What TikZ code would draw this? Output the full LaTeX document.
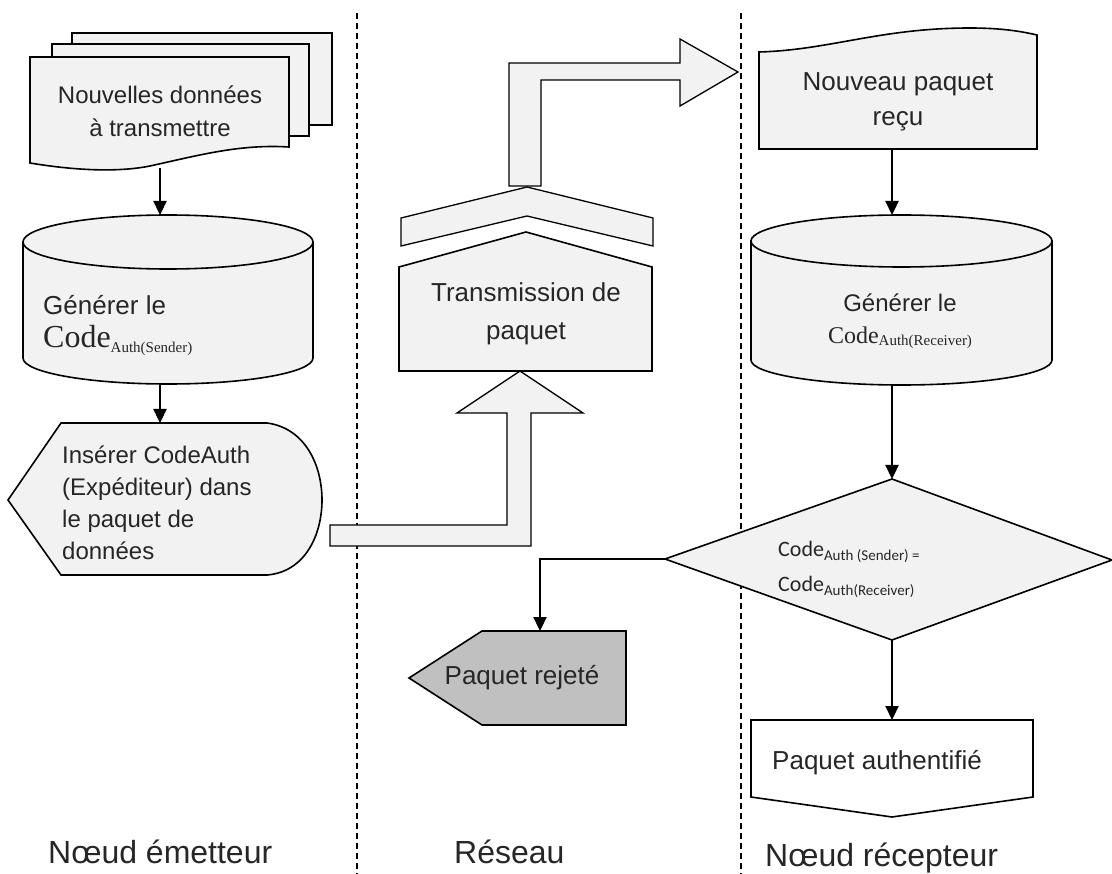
\documentclass[tikz,border=0pt]{standalone}
\usepackage{fontspec}
\setmainfont{Liberation Sans}
\newfontfamily\codeserif{Liberation Serif}
\newfontfamily\codecalib{Carlito}
\usetikzlibrary{positioning, arrows.meta}
\definecolor{shapefill}{HTML}{F2F2F2}
\definecolor{rejfill}{HTML}{C0C0C0}
\definecolor{txtgray}{HTML}{262626}
\newcommand{\setfs}[2]{\fontsize{#1}{#2}\selectfont}
% Code with its subscript: family, big size, small size, drop, subscript
\newcommand{\authcode}[5]{{#1\setfs{#2}{#2}Code}\raisebox{-#4pt}{#1\setfs{#3}{#3}#5}}
\tikzset{%
	box/.style = {draw, line width = 1.6pt, fill = shapefill},
	blockarrow/.style = {draw, line width = 1.3pt, fill = shapefill},
	flow/.style = {line width = 2.3pt, -{Triangle[length = 14pt, width = 13pt]}},
	lane/.style = {line width = 1.2pt, dash pattern = on 6pt off 4pt},
	lbl/.style = {text = txtgray, inner sep = 0pt, font = \setfs{24}{33}},
	lanelbl/.style = {text = txtgray, inner sep = 0pt, anchor = west, font = \setfs{32}{32}}
}
\begin{document}
\begin{tikzpicture}[x = 1pt, y = -1pt]
			\useasboundingbox (0,0) rectangle (1112,874);
			% lanes
			\coordinate (laneA-n) at (357,13);
			\coordinate (laneA-s) at (357,874);
			\coordinate (laneB-n) at (741,13);
			\coordinate (laneB-s) at (741,874);
			\draw [lane] (laneA-n) -- (laneA-s);
			\draw [lane] (laneB-n) -- (laneB-s);
			% sender side
			\draw [box] (72,33) rectangle (332,125);
			\draw [box] (52,44) rectangle (309,136);
			\draw [box] (30,57) -- (289,57) -- (289,147) .. controls (240,144) and (200,155) .. (150,166) .. controls (110,174) and (60,168) .. (30,163) -- cycle;
			\node [lbl, align = center] (newdata) at (160,111) {Nouvelles données\\à transmettre};
			\draw [box] (23,242) -- (23,358) arc [start angle = 180, end angle = 360, x radius = 145pt, y radius = 26pt] -- (313,242) -- cycle;
			\draw [box] (168,242) ellipse [x radius = 145pt, y radius = 27pt];
			\node [lbl, anchor = west, font = \setfs{26}{36}] (genS) at (43,305) {Générer le};
			\node [lbl, anchor = west] (codeS) at (43,340) {\authcode{\codeserif}{32}{15}{5}{Auth(Sender)}};
			\draw [box] (8,500) -- (61,423) -- (267,423) .. controls (305,428) and (322,465) .. (322,500) .. controls (322,535) and (305,572) .. (267,575) -- (61,575) -- cycle;
			\node [lbl, anchor = west, align = left, font = \setfs{24}{32}] (insert) at (62,503) {Insérer CodeAuth\\(Expéditeur) dans\\le paquet de\\données};
			\coordinate (newdata-s) at (160,168);
			\coordinate (cylS-n) at (160,215);
			\coordinate (cylS-s) at (160,384);
			\coordinate (insert-n) at (160,423);
			\path [flow] (newdata-s) edge (cylS-n);
			\path [flow] (cylS-s) edge (insert-n);
			% network
			\draw [blockarrow] (330,525) -- (507,525) -- (507,413) -- (457,413) -- (520,371) -- (583,413) -- (531,413) -- (531,546) -- (330,546) -- cycle;
			\draw [box] (399,371) -- (399,267) -- (526,232) -- (652,267) -- (652,371) -- cycle;
			\draw [blockarrow] (401,246) -- (401,218) -- (527,187) -- (653,218) -- (653,246) -- (527,216) -- cycle;
			\draw [blockarrow] (509,186) -- (509,63) -- (680,63) -- (680,39) -- (738,72) -- (680,106) -- (680,80) -- (541,80) -- (541,186) -- cycle;
			\node [lbl, align = center, font = \setfs{26}{38}] (transmit) at (526,314) {Transmission de\\paquet};
			\draw [box, fill = rejfill] (482,631) -- (626,631) -- (626,725) -- (482,725) -- (409,678) -- cycle;
			\node [lbl, font = \setfs{26}{26}] (reject) at (522,678) {Paquet rejeté};
			% receiver side
			\draw [box] (759,52) .. controls (830,50) and (880,28) .. (970,28) .. controls (1000,28) and (1020,31) .. (1037,35) -- (1037,149) -- (759,149) -- cycle;
			\node [lbl, align = center, font = \setfs{26}{35}] (newpkt) at (898,102) {Nouveau paquet\\reçu};
			\draw [box] (751,241) -- (751,360) arc [start angle = 180, end angle = 360, x radius = 150.5pt, y radius = 25pt] -- (1052,241) -- cycle;
			\draw [box] (901.5,241) ellipse [x radius = 150.5pt, y radius = 26pt];
			\node [lbl] (genR) at (900,303) {Générer le};
			\node [lbl] (codeR) at (900,338) {\authcode{\codeserif}{24}{15}{2}{Auth(Receiver)}};
			\draw [box] (892,479) -- (1112,560) -- (892,640) -- (665,559) -- cycle;
			\node [lbl, anchor = west] (cmpA) at (778,552) {\authcode{\codecalib}{22}{15}{4}{Auth (Sender) =}};
			\node [lbl, anchor = west] (cmpB) at (778,587) {\authcode{\codecalib}{22}{15}{4}{Auth(Receiver)}};
			\draw [box, fill = white] (751,720) -- (1033,720) -- (1033,797) -- (892,817) -- (751,797) -- cycle;
			\node [lbl, anchor = west, font = \setfs{26}{26}] (auth) at (772,763) {Paquet authentifié};
			\coordinate (newpkt-s) at (892,149);
			\coordinate (cylR-n) at (892,215);
			\coordinate (cylR-s) at (892,385);
			\coordinate (check-n) at (892,479);
			\coordinate (check-w) at (665,559);
			\coordinate (check-s) at (892,640);
			\coordinate (reject-n) at (540,631);
			\coordinate (auth-n) at (892,720);
			\path [flow] (newpkt-s) edge (cylR-n);
			\path [flow] (cylR-s) edge (check-n);
			\path [flow] (check-s) edge (auth-n);
			\draw [flow] (check-w) -| (reject-n);
			% lane titles
			\node [lanelbl] (sender) at (48,852) {Nœud émetteur};
			\node [lanelbl] (network) at (454,852) {Réseau};
			\node [lanelbl] (receiver) at (765,858) {Nœud récepteur};
			\end{tikzpicture}
\end{document}
